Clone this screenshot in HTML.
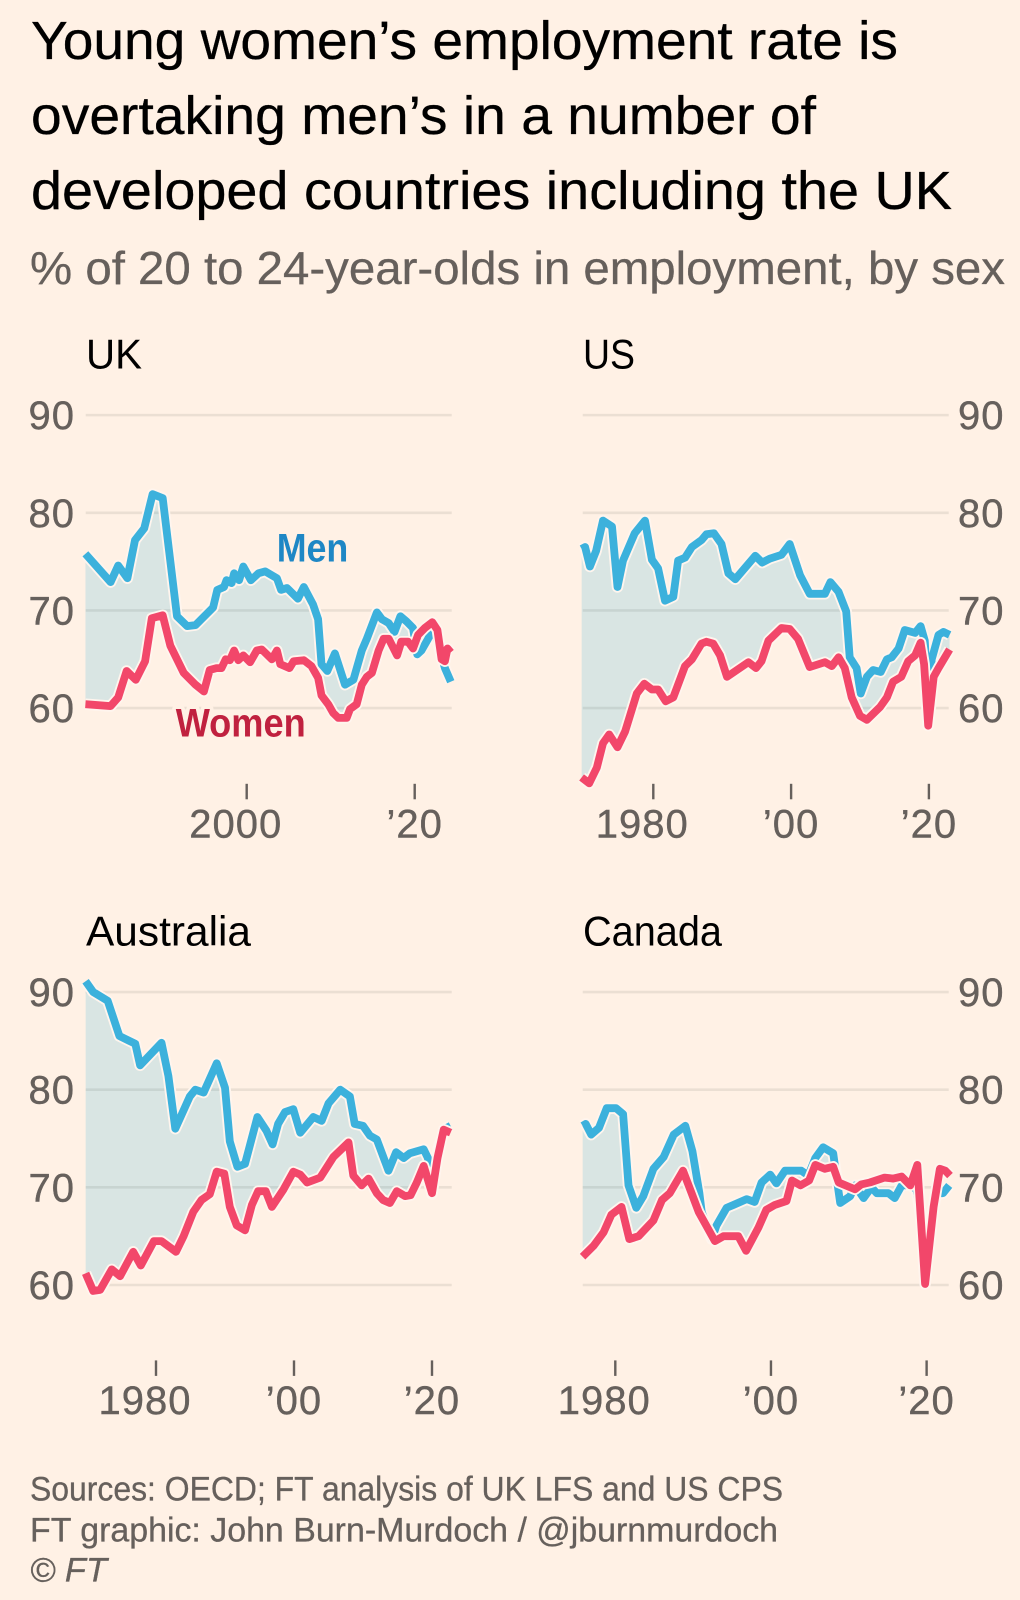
<!DOCTYPE html>
<html lang="en">
<head>
<meta charset="utf-8">
<title>Young women's employment rate</title>
<style>
html,body{margin:0;padding:0;background:#fff1e5;}
svg{display:block;}
text{font-family:"Liberation Sans",Arial,sans-serif;}
.title{font-size:54px;fill:#000;stroke:#000;stroke-width:.3px;}
.sub{font-size:46px;fill:#66605c;stroke:#66605c;stroke-width:.3px;}
.src{font-size:34px;fill:#66605c;stroke:#66605c;stroke-width:.3px;}
.panel-title{font-size:42px;fill:#000;}
.tick{font-size:40px;fill:#66605c;stroke:#66605c;stroke-width:.4px;letter-spacing:1px;}
.lab{font-size:40px;font-weight:bold;paint-order:stroke;stroke:#fff1e5;stroke-width:8px;stroke-linejoin:round;}
</style>
</head>
<body>
<svg id="chart" xmlns="http://www.w3.org/2000/svg" width="1020" height="1600" viewBox="0 0 1020 1600">
<rect x="0" y="0" width="1020" height="1600" fill="#fff1e5"/>
<g>
<text class="title" x="31" y="59" textLength="867" lengthAdjust="spacingAndGlyphs">Young women’s employment rate is</text>
<text class="title" x="31" y="134" textLength="785" lengthAdjust="spacingAndGlyphs">overtaking men’s in a number of</text>
<text class="title" x="31" y="209" textLength="921" lengthAdjust="spacingAndGlyphs">developed countries including the UK</text>
</g>
<text class="sub" x="30" y="284" textLength="975" lengthAdjust="spacingAndGlyphs">% of 20 to 24-year-olds in employment, by sex</text>
<g id="panels"></g>
<g>
<text class="src" x="30" y="1500.7" textLength="753" lengthAdjust="spacingAndGlyphs">Sources: OECD; FT analysis of UK LFS and US CPS</text>
<text class="src" x="30" y="1541.7" textLength="748" lengthAdjust="spacingAndGlyphs">FT graphic: John Burn-Murdoch / @jburnmurdoch</text>
<text class="src" x="30" y="1581.7" textLength="77" lengthAdjust="spacingAndGlyphs" font-style="italic">© FT</text>
</g>
</svg>
<script>
const yTickValues = [60, 70, 80, 90];
const ukTickYears = [2000, 2020];
const ukTickLabels = ['2000', '’20'];
const stdTickYears = [1980, 2000, 2020];
const stdTickLabels = ['1980', '’00', '’20'];

const ukMenYears = [1980.8,1983.8,1984.7,1985.8,1986.7,1987.8,1988.8,1990.0,1990.7,1991.7,1992.9,1993.9,1996.0,1996.5,1997.3,1997.6,1998.2,1998.5,1999.1,1999.6,2000.5,2001.4,2002.2,2003.6,2004.1,2004.8,2006.1,2006.8,2007.9,2008.5,2008.9,2009.6,2010.5,2011.7,2012.7,2013.7,2014.3,2015.5,2016.1,2016.9,2017.6,2018.3,2019.0,2019.8,2020.3,2020.8,2021.6,2022.2,2022.9,2023.6,2024.3];
const ukMenValues = [75.8,72.9,74.6,73.3,77.2,78.4,81.9,81.5,76.5,69.4,68.4,68.5,70.3,72.1,72.4,73.1,72.8,73.8,73.1,74.5,73.1,73.8,74.0,73.3,72.1,72.3,71.2,72.4,70.6,69.1,64.5,63.8,65.6,62.4,62.9,65.9,67.1,69.8,69.1,68.7,67.8,69.4,68.9,68.2,65.5,65.9,67.1,68.4,66.2,64.1,62.7];
const ukWomenYears = [1980.8,1983.8,1984.7,1985.7,1986.8,1987.9,1988.7,1990.0,1990.9,1992.5,1993.9,1994.9,1995.6,1996.4,1997.0,1997.5,1998.0,1998.5,1999.0,1999.6,2000.4,2001.2,2001.8,2003.0,2003.6,2004.0,2005.1,2005.6,2006.8,2007.7,2008.5,2008.9,2009.7,2010.3,2010.9,2011.9,2012.3,2013.1,2013.7,2014.3,2014.9,2015.7,2016.3,2016.9,2017.9,2018.4,2019.2,2019.8,2020.4,2021.2,2022.1,2022.7,2023.2,2023.6,2023.9,2024.3];
const ukWomenValues = [60.4,60.2,61.1,63.8,62.9,64.8,69.2,69.5,66.4,63.6,62.4,61.7,63.9,64.1,64.1,65.0,64.9,65.9,64.9,65.4,64.7,65.9,66.0,65.0,65.9,64.5,64.1,64.8,64.9,64.3,63.1,61.3,60.4,59.5,59.0,59.0,59.9,60.4,62.4,63.2,63.6,65.9,67.1,67.1,65.4,66.8,66.8,66.1,67.5,68.2,68.8,68.0,65.0,64.8,66.1,65.7];

const usMenYears = [1969.6,1970.1,1970.8,1971.7,1972.7,1974.0,1974.8,1975.6,1977.3,1978.8,1979.8,1980.7,1981.7,1982.9,1983.6,1984.6,1985.6,1987.0,1987.7,1988.8,1989.9,1990.9,1991.9,1994.8,1995.8,1996.9,1998.6,1999.8,2001.3,2002.7,2004.9,2005.7,2006.9,2008.0,2008.5,2009.5,2010.1,2011.0,2011.9,2013.0,2013.9,2014.6,2015.6,2016.5,2018.0,2018.8,2019.4,2019.9,2020.4,2021.4,2022.1,2023.0];
const usMenValues = [76.3,76.5,74.5,76.1,79.2,78.6,72.4,75.1,77.9,79.2,75.2,74.3,71.0,71.4,75.1,75.4,76.5,77.2,77.8,77.9,76.8,73.8,73.2,75.6,74.9,75.3,75.7,76.8,73.6,71.7,71.7,72.9,71.9,69.9,65.2,64.1,61.5,63.2,63.9,63.7,65.0,65.2,66.1,68.0,67.7,68.4,66.9,59.9,65.0,67.5,67.8,67.5];
const usWomenYears = [1969.6,1970.7,1971.8,1972.7,1973.6,1974.8,1975.9,1977.6,1978.7,1979.8,1980.7,1981.8,1982.9,1984.6,1985.6,1987.0,1987.7,1988.7,1989.7,1990.7,1993.8,1994.9,1995.7,1996.7,1998.6,1999.8,2001.0,2002.7,2004.9,2005.9,2006.9,2007.8,2008.8,2010.0,2011.0,2012.9,2013.9,2014.8,2016.0,2017.0,2018.0,2018.8,2019.3,2019.9,2020.7,2021.4,2023.0];
const usWomenValues = [52.9,52.3,53.9,56.4,57.3,56.0,57.6,61.5,62.5,61.9,61.9,60.7,61.1,64.3,65.0,66.6,66.8,66.6,65.4,63.2,64.7,64.1,64.8,66.9,68.2,68.1,67.1,64.2,64.7,64.3,65.2,64.1,61.1,59.2,58.8,60.1,61.1,62.7,63.2,64.8,65.4,66.7,64.5,58.2,63.2,64.1,66.0];

const auMenYears = [1969.8,1970.9,1973.0,1974.7,1977.0,1977.7,1980.8,1981.8,1982.8,1984.9,1985.7,1986.9,1988.8,1990.0,1990.7,1991.8,1992.9,1994.7,1996.0,1996.9,1997.7,1998.7,1999.9,2000.9,2002.8,2004.0,2005.0,2006.7,2008.1,2008.8,2010.0,2011.0,2012.0,2013.7,2014.8,2015.9,2016.8,2018.8,2019.4,2020.0,2020.9,2021.9,2022.7];
const auMenValues = [91.1,90.0,89.1,85.5,84.7,82.5,84.8,81.4,76.0,79.3,80.0,79.7,82.7,80.2,74.7,72.1,72.4,77.2,75.8,74.4,76.5,77.7,78.0,75.6,77.2,76.8,78.6,80.0,79.3,76.5,76.3,75.3,74.9,71.7,73.6,73.0,73.5,73.9,73.0,69.3,74.0,76.0,76.3];
const auWomenYears = [1969.8,1970.9,1971.9,1973.6,1974.8,1976.7,1977.8,1979.7,1980.8,1982.9,1984.0,1985.4,1986.6,1987.8,1988.8,1989.9,1990.7,1991.7,1992.9,1993.9,1994.8,1995.9,1996.8,1998.5,1999.9,2000.9,2001.9,2003.8,2005.7,2007.9,2008.6,2009.8,2010.8,2012.0,2012.9,2013.9,2014.9,2016.1,2016.9,2017.8,2018.8,2020.0,2020.8,2021.7,2022.7];
const auWomenValues = [61.2,59.4,59.5,61.6,60.9,63.4,62.0,64.5,64.5,63.4,65.0,67.5,68.7,69.3,71.6,71.4,68.0,66.1,65.6,68.2,69.6,69.6,68.0,69.8,71.6,71.3,70.5,71.0,73.1,74.6,71.2,70.2,70.9,69.4,68.7,68.4,69.6,69.1,69.2,70.5,72.2,69.4,73.0,75.9,75.6];

const caMenYears = [1975.8,1976.2,1976.9,1977.9,1978.9,1980.1,1981.0,1981.7,1982.7,1983.6,1984.9,1986.2,1987.5,1989.0,1989.9,1990.8,1991.1,1992.4,1993.0,1994.3,1995.2,1996.9,1997.9,1998.8,1999.9,2000.7,2001.8,2003.9,2004.8,2005.7,2006.7,2008.0,2008.4,2008.9,2010.2,2010.8,2011.9,2012.9,2013.6,2015.1,2015.9,2016.8,2017.9,2018.7,2019.8,2021.3,2022.1,2022.9];
const caMenValues = [76.3,76.5,75.4,76.1,78.1,78.1,77.5,70.2,67.9,69.1,71.9,73.1,75.4,76.3,73.7,69.4,67.5,64.7,66.1,67.9,68.2,68.8,68.5,70.5,71.3,70.4,71.7,71.7,71.2,73.0,74.1,73.5,71.2,68.4,69.1,70.2,68.9,70.0,69.4,69.4,68.9,70.2,70.2,69.8,64.2,69.4,69.4,70.2];
const caWomenYears = [1975.8,1977.2,1978.5,1979.5,1980.8,1981.8,1983.0,1984.9,1986.0,1987.0,1988.7,1989.8,1990.7,1992.8,1993.9,1995.8,1996.8,1998.4,1999.4,2000.5,2002.0,2002.7,2003.8,2004.9,2005.7,2006.9,2008.0,2008.7,2010.8,2011.6,2012.7,2014.6,2015.7,2016.8,2017.9,2018.8,2019.8,2020.9,2021.7,2022.4,2023.0];
const caWomenValues = [62.9,64.0,65.4,67.2,68.0,64.7,65.0,66.6,68.7,69.4,71.7,69.4,67.5,64.5,65.0,65.0,63.5,65.9,67.7,68.2,68.6,70.7,70.2,70.7,72.3,71.9,72.1,70.5,69.8,70.3,70.5,71.0,70.9,71.1,70.2,72.3,60.1,68.0,71.9,71.7,71.2];

const NS = 'http://www.w3.org/2000/svg';
const root = document.getElementById('panels');

function make(parent, tag, attrs, text) {
  const el = document.createElementNS(NS, tag);
  for (const k in attrs) el.setAttribute(k, attrs[k]);
  if (text !== undefined) el.textContent = text;
  parent.appendChild(el);
  return el;
}
function pointsOf(years, values, xs, ys) {
  return years.map((yr, i) => xs(yr).toFixed(1) + ',' + ys(values[i]).toFixed(1));
}

function drawPanel(p) {
  const xs = yr => p.refX + (yr - p.refYear) * p.pxPerYear;
  const ys = v => p.y60 - (v - 60) * 9.766;
  const key = p.key;

  const g = make(root, 'g', {});
  
  

  const title = make(g, 'text', {class: 'panel-title', x: p.titleX, y: p.titleY, textLength: p.titleLen, lengthAdjust: 'spacingAndGlyphs'}, p.title);
  
  

  yTickValues.forEach(v => {
    const line = make(g, 'line', {x1: p.left, x2: p.right, y1: ys(v), y2: ys(v), stroke: '#ebdfd3', 'stroke-width': 2.6});
    
    
    const label = make(g, 'text', {class: 'tick', x: p.labelX, y: ys(v) + 14, 'text-anchor': p.labelAnchor}, String(v));
    
    
  });

  p.tickYears.forEach((yr, i) => {
    const mark = make(g, 'line', {x1: xs(yr), x2: xs(yr), y1: p.tickTop, y2: p.tickTop + 15.5, stroke: '#66605c', 'stroke-width': 2.4});
    
    
    const txt = p.tickLabels[i];
    const dx = txt.length === 4 ? -11 : 0;
    const label = make(g, 'text', {class: 'tick', x: xs(yr) + dx, y: p.tickTop + 53.5, 'text-anchor': 'middle'}, txt);
    
    
  });

  const menPts = pointsOf(p.menYears, p.menValues, xs, ys);
  const womenPts = pointsOf(p.womenYears, p.womenValues, xs, ys);
  const bottom = p.y60 + 200;
  const top = p.y60 - 400;

  const clipId = key + '-men-clip';
  const clip = make(g, 'clipPath', {id: clipId});
  make(clip, 'polygon', {points: menPts.join(' ') + ' ' + xs(p.menYears[p.menYears.length - 1]).toFixed(1) + ',' + bottom + ' ' + xs(p.menYears[0]).toFixed(1) + ',' + bottom});

  const gap = make(g, 'polygon', {
    points: womenPts.join(' ') + ' ' + xs(p.womenYears[p.womenYears.length - 1]).toFixed(1) + ',' + top + ' ' + xs(p.womenYears[0]).toFixed(1) + ',' + top,
    fill: '#d9f3fd',
    'clip-path': 'url(#' + clipId + ')',
    style: 'mix-blend-mode:multiply'
  });
  
  

  const menHalo = make(g, 'polyline', {points: menPts.join(' '), fill: 'none', stroke: '#fff5ee', 'stroke-width': 11.5, 'stroke-linejoin': 'round'});
  
  
  const menLine = make(g, 'polyline', {points: menPts.join(' '), fill: 'none', stroke: '#3cb1dc', 'stroke-width': 7.8, 'stroke-linejoin': 'round'});
  
  
  const womenHalo = make(g, 'polyline', {points: womenPts.join(' '), fill: 'none', stroke: '#fff5ee', 'stroke-width': 11.5, 'stroke-linejoin': 'round'});
  
  
  const womenLine = make(g, 'polyline', {points: womenPts.join(' '), fill: 'none', stroke: '#f2476a', 'stroke-width': 7.8, 'stroke-linejoin': 'round'});
  
  

  if (p.direct) {
    const m = make(g, 'text', {class: 'lab', x: 276.7, y: ys(p.menLabelValue), fill: '#1e87c5', textLength: 71.6, lengthAdjust: 'spacingAndGlyphs'}, 'Men');
    
    
    const w = make(g, 'text', {class: 'lab', x: 175.7, y: ys(p.womenLabelValue), fill: '#c0213f', textLength: 130, lengthAdjust: 'spacingAndGlyphs'}, 'Women');
    
    
  }
}

drawPanel({key:'uk', title:'UK', titleX:86, titleY:368.5, titleLen:56, left:85.7, right:451.7, y60:708.1,
  refYear:2000, refX:246.7, pxPerYear:8.4, labelX:75, labelAnchor:'end', tickTop:783.8,
  tickYears:ukTickYears, tickLabels:ukTickLabels,
  menYears:ukMenYears, menValues:ukMenValues, womenYears:ukWomenYears, womenValues:ukWomenValues,
  direct:true, menLabelValue:75.0, womenLabelValue:57.1});
drawPanel({key:'us', title:'US', titleX:583, titleY:368.5, titleLen:52, left:582.7, right:948.7, y60:708.1,
  refYear:1980, refX:653.3, pxPerYear:6.89, labelX:958, labelAnchor:'start', tickTop:783.8,
  tickYears:stdTickYears, tickLabels:stdTickLabels,
  menYears:usMenYears, menValues:usMenValues, womenYears:usWomenYears, womenValues:usWomenValues});
drawPanel({key:'australia', title:'Australia', titleX:86, titleY:945.5, titleLen:165, left:85.7, right:451.7, y60:1285,
  refYear:1980, refX:156, pxPerYear:6.9, labelX:75, labelAnchor:'end', tickTop:1360.4,
  tickYears:stdTickYears, tickLabels:stdTickLabels,
  menYears:auMenYears, menValues:auMenValues, womenYears:auWomenYears, womenValues:auWomenValues});
drawPanel({key:'canada', title:'Canada', titleX:583, titleY:945.5, titleLen:139, left:582.7, right:948.7, y60:1285,
  refYear:1980, refX:615.3, pxPerYear:7.783, labelX:958, labelAnchor:'start', tickTop:1360.4,
  tickYears:stdTickYears, tickLabels:stdTickLabels,
  menYears:caMenYears, menValues:caMenValues, womenYears:caWomenYears, womenValues:caWomenValues});
</script>
</body>
</html>
